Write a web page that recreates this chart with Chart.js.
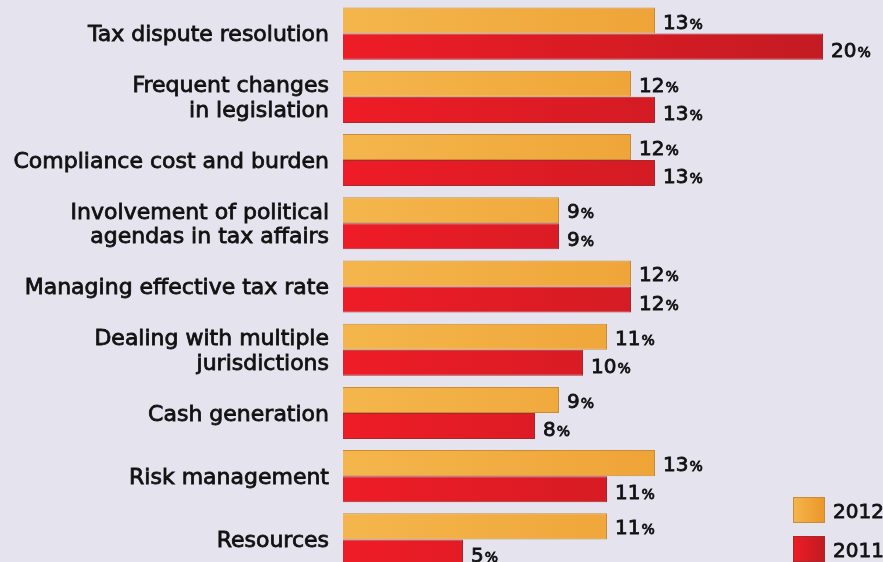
<!DOCTYPE html>
<html>
<head>
<meta charset="utf-8">
<script src="https://cdn.jsdelivr.net/npm/chart.js@4.4.1/dist/chart.umd.min.js"></script>
<style>
  html, body { margin: 0; padding: 0; background: #e5e4ee; overflow: hidden; }
  canvas { display: block; }
</style>
</head>
<body>
<canvas id="c" width="883" height="571"></canvas>
<script>
const categories = [
  "Tax dispute resolution",
  ["Frequent changes", "in legislation"],
  "Compliance cost and burden",
  ["Involvement of political", "agendas in tax affairs"],
  "Managing effective tax rate",
  ["Dealing with multiple", "jurisdictions"],
  "Cash generation",
  "Risk management",
  "Resources"
];
const seriesNames = ["2012", "2011"];
const values2012 = [13, 12, 12, 9, 12, 11, 9, 13, 11];
const values2011 = [20, 13, 13, 9, 12, 10, 8, 11, 5];

const FONT = "'DejaVu Sans', 'Liberation Sans', Arial, sans-serif";

function hGrad(ctx, area, c1, c2) {
  const g = ctx.createLinearGradient(area.left, 0, area.right, 0);
  g.addColorStop(0, c1);
  g.addColorStop(1, c2);
  return g;
}
const palettes = [
  { a: '#f4b64c', b: '#eb9628', border: '#c98a3a' },
  { a: '#ee1c26', b: '#bf1b22', border: '#a8282c' }
];

function drawText(ctx, s, x, y) {
  ctx.fillText(s, x, y);
  ctx.strokeText(s, x, y);
}

const labelPlugin = {
  id: 'valueLabels',
  afterDatasetsDraw(chart) {
    const ctx = chart.ctx;
    ctx.save();
    ctx.fillStyle = '#111';
    ctx.strokeStyle = '#111';
    ctx.lineWidth = 0.8;
    ctx.textBaseline = 'alphabetic';
    ctx.textAlign = 'left';
    chart.data.datasets.forEach((ds, di) => {
      const meta = chart.getDatasetMeta(di);
      meta.data.forEach((bar, i) => {
        const v = ds.data[i];
        const x = bar.x + 8;
        const y = bar.y + (di === 0 ? 8 : 10);
        ctx.font = '20px ' + FONT;
        const s = String(v);
        drawText(ctx, s, x, y);
        const w = ctx.measureText(s).width;
        ctx.font = '14px ' + FONT;
        drawText(ctx, '%', x + w + 1, y);
      });
    });
    ctx.restore();
  }
};

const legendPlugin = {
  id: 'customLegend',
  afterDraw(chart) {
    const ctx = chart.ctx;
    ctx.save();
    const boxes = [{ y: 497 }, { y: 536 }];
    boxes.forEach((b, i) => {
      const p = palettes[i];
      const g = ctx.createLinearGradient(793, 0, 825, 0);
      g.addColorStop(0, p.a);
      g.addColorStop(1, p.b);
      ctx.fillStyle = g;
      ctx.fillRect(793, b.y, 32, 26);
      ctx.strokeStyle = p.border;
      ctx.lineWidth = 1;
      ctx.strokeRect(793.5, b.y + 0.5, 31, 25);
      ctx.fillStyle = '#111';
      ctx.strokeStyle = '#111';
      ctx.lineWidth = 0.8;
      ctx.font = '20px ' + FONT;
      ctx.textAlign = 'left';
      ctx.textBaseline = 'alphabetic';
      drawText(ctx, seriesNames[i], 833, b.y + 21);
    });
    ctx.restore();
  }
};

const bgPlugin = {
  id: 'bg',
  beforeDraw(chart) {
    const ctx = chart.ctx;
    ctx.save();
    ctx.fillStyle = '#e5e4ee';
    ctx.fillRect(0, 0, chart.width, chart.height);
    ctx.restore();
  }
};

new Chart(document.getElementById('c'), {
  type: 'bar',
  data: {
    labels: categories,
    datasets: [values2012, values2011].map((d, i) => ({
      label: seriesNames[i],
      data: d,
      backgroundColor: (c) => {
        const area = c.chart.chartArea;
        if (!area) return palettes[i].a;
        return hGrad(c.chart.ctx, area, palettes[i].a, palettes[i].b);
      },
      borderColor: palettes[i].border,
      borderWidth: 1,
      borderSkipped: 'start',
      categoryPercentage: 0.824,
      barPercentage: 1.0
    }))
  },
  options: {
    indexAxis: 'y',
    responsive: false,
    animation: false,
    devicePixelRatio: 1,
    layout: { padding: { top: 2, bottom: 0, left: 0, right: 0 } },
    plugins: { legend: { display: false }, tooltip: { enabled: false } },
    scales: {
      x: { display: false, min: 0, max: 22.5 },
      y: {
        grid: { display: false, drawTicks: false },
        border: { display: false },
        ticks: {
          color: '#111',
          padding: 14,
          labelOffset: 2,
          textStrokeColor: '#111',
          textStrokeWidth: 0.8,
          font: { family: FONT, size: 22, weight: 'normal', lineHeight: 1.13 }
        },
        afterFit(scale) {
          scale.width = 343;
          scale.paddingTop = 0;
          scale.paddingBottom = 0;
        }
      }
    }
  },
  plugins: [bgPlugin, labelPlugin, legendPlugin]
});
</script>
</body>
</html>
